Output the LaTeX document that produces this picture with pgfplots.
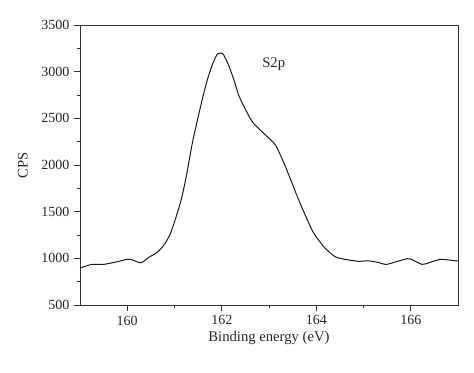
\documentclass[border=0pt]{standalone}
\usepackage{fontspec}
\setmainfont{Liberation Serif}
\usepackage{pgfplots}
\pgfplotsset{compat=1.18}
\begin{document}
\begin{tikzpicture}
\begin{axis}[
  name=ax, at={(0,0)}, anchor=south west,
  scale only axis, width=283.5pt, height=210pt,
  xmin=159, xmax=167, ymin=500, ymax=3500,
  xtick={160,162,164,166}, ytick={500,1000,...,3500},
  minor x tick num=1, minor y tick num=1,
  tick pos=left, tick align=outside,
  major tick length=4.5pt, minor tick length=2.5pt,
  axis line style={draw=black!80, line width=0.7pt},
  every tick/.style={draw=black!80, line width=0.6pt},
  /pgf/number format/assume math mode=true,
  /pgf/number format/1000 sep={},
  tick label style={font=\fontsize{10.5}{12}\selectfont, black!85},
  label style={font=\fontsize{11}{13}\selectfont, black!85},
  xlabel={Binding energy (eV)}, ylabel={CPS},
  xlabel style={at={(axis description cs:0.5,-0.118)}, anchor=center},
  ylabel style={at={(axis description cs:-0.151,0.5)}, anchor=center},
]
\addplot[black!90, line width=0.75pt, smooth, tension=0.4] coordinates {
(159.0,896) (159.25,935) (159.5,935) (159.8,965) (160.0,990) (160.1,985)
(160.22,960) (160.31,955) (160.47,1014) (160.64,1067) (160.78,1145) (160.9,1250)
(161.0,1390) (161.14,1624) (161.25,1880) (161.39,2266) (161.6,2729) (161.7,2920)
(161.81,3087) (161.91,3190) (162.02,3193) (162.1,3120) (162.16,3050) (162.26,2908)
(162.35,2760) (162.44,2658) (162.65,2461) (162.93,2319) (163.14,2212) (163.35,1980)
(163.63,1624) (163.91,1303) (164.05,1196) (164.19,1107) (164.4,1017) (164.61,989)
(164.9,968) (165.1,974) (165.3,957) (165.48,935) (165.7,965) (165.93,996)
(166.0,992) (166.24,935) (166.4,955) (166.63,989) (166.94,974) (167.0,972)
};
\node[font=\fontsize{11}{13}\selectfont, black!85, anchor=base] at (axis cs:163.1,3047) {S2p};
\end{axis}
\pgfresetboundingbox
\path (-60pt,-51pt) rectangle (295.5pt,228.75pt);
\end{tikzpicture}
\end{document}
